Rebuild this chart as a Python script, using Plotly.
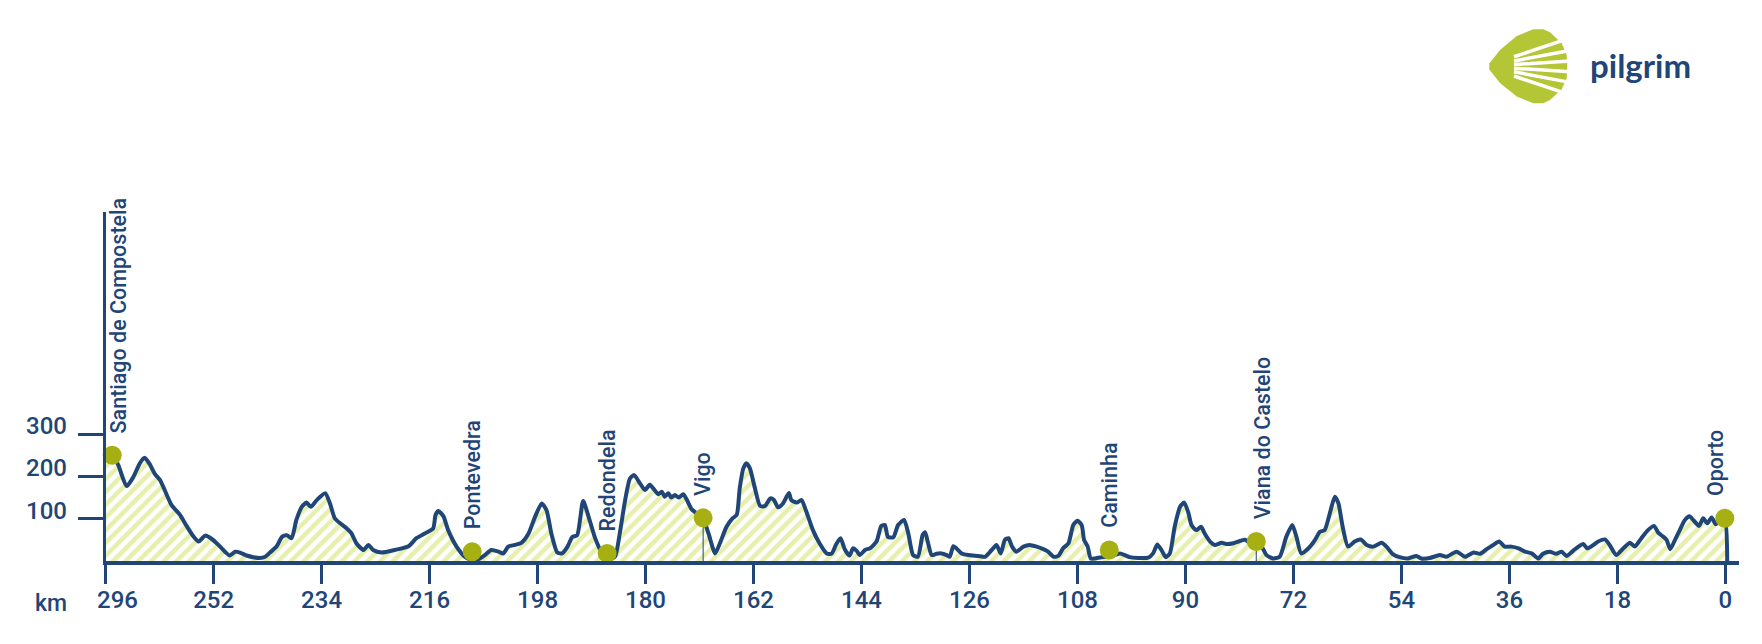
import plotly.graph_objects as go

W, H = 1762, 644
OFF = 8  # page body margin in the browser
NAVY = "#1f4677"
OLIVE = "#a7b013"
STRIPE = "#cfdf5a"
LOGO_GREEN = "#b4c636"


def fx(px):
    return (px - OFF) / W


def fy(py):
    return 1 - (py - OFF) / H


# ---- elevation profile (km remaining on the drawn scale, elevation in m) ----
km = [270.0, 268.9, 267.9, 266.5, 265.4, 264.3, 263.5, 262.6, 261.8, 260.9, 260.1, 259.0,
      257.6, 256.5, 255.4, 254.5, 253.4, 252.3, 251.2, 250.1, 249.3, 248.4, 247.6, 246.5,
      245.4, 244.3, 243.4, 242.6, 241.5, 240.6, 239.8, 239.0, 238.2, 237.3, 236.5, 235.8,
      234.8, 233.4, 232.6, 231.8, 230.9, 229.8, 229.0, 228.2, 227.0, 226.2, 225.4,
      224.0, 221.8, 219.5, 218.2, 216.8, 215.4, 215.0, 214.5, 213.7, 212.9, 211.5, 210.1,
      208.9, 207.9, 206.8, 205.7, 204.5, 203.7, 202.9, 201.8, 200.7, 199.5, 198.4, 197.3,
      196.5, 195.7, 194.7, 193.9, 193.0, 192.2, 191.4, 190.4, 189.5, 188.4, 187.3, 186.2,
      185.1, 184.3, 183.4, 182.6, 181.9, 180.9, 180.1, 179.3, 178.4,
      177.9, 177.3, 176.8, 176.2, 175.7, 175.1, 174.5, 173.7, 173.1, 172.3, 171.5, 170.4,
      169.5, 168.4, 167.6, 166.5, 165.5, 164.8, 164.3, 163.7, 163.2, 162.6, 161.8, 160.9,
      160.1, 159.2, 158.6, 157.9, 157.1, 156.1, 155.7, 154.8, 154.0, 153.2, 152.1, 151.0,
      149.8, 149.0, 148.2, 147.5, 146.8, 146.0, 145.4, 144.8, 144.3, 143.4, 142.6, 141.5,
      140.7, 140.1, 139.6, 138.7, 137.9, 136.9, 136.2, 135.4, 134.6, 133.8, 133.4, 132.9,
      132.3,
      131.5, 130.7, 129.8, 129.3, 128.7, 128.2, 127.3, 126.2, 124.5, 123.4, 122.3, 121.5,
      120.8, 120.1, 119.5, 118.9, 118.2, 117.0, 116.0, 114.8, 113.7, 112.9, 112.0, 111.2,
      110.4, 109.5, 108.7, 108.0, 107.3, 106.9, 106.3, 105.8, 105.1, 104.0, 102.8, 101.8,
      100.9, 100.1, 99.3, 97.9, 96.2, 95.4, 94.7, 94.0, 93.3, 92.6, 91.8, 90.9, 90.2, 89.5,
      89.0, 88.2, 87.4,
      86.8, 85.9, 85.1, 84.0, 83.2, 82.0, 81.2, 80.1, 79.3, 78.2, 77.3, 76.5, 75.4, 74.3,
      73.2, 72.2, 71.5, 70.7, 69.5, 68.4, 67.6, 66.8, 65.8, 65.1, 64.5, 63.8, 62.9, 61.8,
      60.8, 59.8, 58.7, 57.3, 56.5, 55.5, 54.3, 52.9, 51.5, 50.7, 49.3, 47.6, 46.5, 44.8,
      43.4, 42.0,
      40.9, 39.8, 38.7, 37.7, 36.8, 35.7, 34.5, 33.4, 32.3, 31.2, 30.4, 29.3, 28.2, 27.3,
      26.5, 25.4, 24.5, 23.7, 23.0, 22.0, 21.2, 20.1, 19.3, 18.2, 17.0, 15.9, 15.1, 14.0,
      12.9, 11.9, 11.2, 10.5, 9.8, 9.2, 8.4, 7.6, 6.8, 6.0, 5.3, 4.4, 3.7, 3.0, 2.3, 1.6,
      0.9, 0.1, -0.3]

elevation = [238, 250, 227, 177, 198, 231, 244, 228, 206, 191, 166, 132,
             109, 83, 59, 46, 60, 52, 38, 22, 13, 22, 20, 13,
             9, 7, 10, 20, 34, 57, 61, 54, 97, 128, 138, 128,
             144, 160, 136, 101, 89, 77, 65, 42, 26, 38, 26,
             20, 26, 35, 54, 65, 77, 109, 118, 106, 73, 34, 10,
             3, 4, 14, 26, 22, 18, 34, 38, 43, 65, 105, 136,
             120, 65, 20, 18, 34, 57, 61, 142, 105, 54, 20, 4,
             10, 65, 144, 195, 203, 183, 168, 180, 166,
             158, 164, 152, 160, 150, 156, 150, 158, 144, 122, 113, 100,
             65, 18, 42, 81, 101, 109, 172, 219, 231, 219, 174, 130,
             130, 148, 144, 127, 136, 161, 144, 138, 144, 117, 73, 42,
             18, 17, 40, 54, 28, 13, 30, 24, 14, 26, 30, 46,
             83, 85, 57, 56, 85, 97, 65, 14, 10, 62, 68, 42,
             14,
             17, 18, 14, 10, 35, 30, 18, 14, 12, 10, 26, 38,
             18, 50, 54, 34, 22, 34, 38, 34, 28, 22, 10, 12,
             30, 42, 85, 95, 85, 50, 34, 6, 6, 9, 10, 14,
             18, 14, 9, 7, 8, 18, 39, 26, 9, 18, 81, 128, 138, 113,
             85, 73, 81,
             65, 46, 38, 43, 40, 42, 46, 50, 43, 42, 34, 14, 6, 10,
             57, 85, 57, 18, 30, 50, 69, 73, 120, 152, 136, 81, 34, 46,
             51, 38, 34, 43, 34, 17, 9, 6, 12, 6, 7, 14, 10, 22,
             10, 20,
             17, 28, 38, 46, 34, 34, 30, 22, 18, 6, 17, 22, 17, 22,
             12, 24, 34, 40, 30, 38, 46, 51, 38, 14, 30, 43, 34, 54,
             73, 83, 67, 59, 50, 28, 50, 73, 96, 106, 96, 83, 101, 89, 103, 87,
             95, 97, 0]

# ---- towns ----
town_names = ["Santiago de Compostela", "Pontevedra", "Redondela", "Vigo",
              "Caminha", "Viana do Castelo", "Oporto"]
town_km = [268.9, 208.9, 186.4, 170.4, 102.7, 78.2, 0.1]
town_elev = [250, 22, 18, 102, 26, 46, 101]
town_stem = [False, False, False, True, False, True, False]

# ---- axis ticks ----
x_tickvals = [270, 252, 234, 216, 198, 180, 162, 144, 126, 108, 90, 72, 54, 36, 18, 0]
x_ticktext = ["296", "252", "234", "216", "198", "180", "162", "144", "126", "108",
              "90", "72", "54", "36", "18", "0"]
y_tickvals = [100, 200, 300]
y_ticktext = ["100", "200", "300"]

# label placement tweaks (pixels), kept apart from the data
label_dx = {"Santiago de Compostela": 6, "Viana do Castelo": 6, "Oporto": -10}
NB = "\u00a0"

fig = go.Figure()

fig.add_trace(go.Scatter(
    x=km, y=elevation, mode="lines",
    line=dict(color=NAVY, width=4, shape="spline", smoothing=0.6),
    fill="tozeroy",
    fillpattern=dict(shape="/", fgcolor=STRIPE, bgcolor="#ffffff", size=9, solidity=0.5),
    hoverinfo="skip", showlegend=False,
))

# thin stems under some towns
sx, sy = [], []
for k, e, s in zip(town_km, town_elev, town_stem):
    if s:
        sx += [k, k, None]
        sy += [0, e, None]
fig.add_trace(go.Scatter(x=sx, y=sy, mode="lines", line=dict(color=NAVY, width=1),
                         hoverinfo="skip", showlegend=False))

fig.add_trace(go.Scatter(
    x=town_km, y=town_elev, mode="markers",
    marker=dict(size=19, color=OLIVE),
    hoverinfo="skip", showlegend=False, cliponaxis=False,
))

for name, k, e in zip(town_names, town_km, town_elev):
    fig.add_annotation(x=k, y=e, xref="x", yref="y", text=name, showarrow=False,
                       textangle=-90, xanchor="center", yanchor="bottom", yshift=20,
                       xshift=label_dx.get(name, 0),
                       font=dict(family="Roboto", size=21.5, color=NAVY, weight=500))

# y tick labels sit a little above their tick marks in the original
for v, t in zip(y_tickvals, y_ticktext):
    fig.add_annotation(x=fx(69), y=v, xref="paper", yref="y", text=t, showarrow=False,
                       xanchor="right", yanchor="middle", yshift=8,
                       font=dict(family="Roboto", size=24, color=NAVY, weight=500))

fig.add_annotation(x=fx(50.5), y=fy(603), xref="paper", yref="paper", text="km",
                   showarrow=False, xanchor="center", yanchor="middle",
                   font=dict(family="Roboto", size=23, color=NAVY, weight=500))

# ---- logo ----
def P(px, py):
    return f"{fx(px):.5f},{fy(py):.5f}"

shell = [(1489.3, 63.5), (1500, 50), (1516.7, 36), (1533.3, 29.3), (1543.3, 29.3),
         (1550, 32.3), (1561.7, 43.3), (1566.7, 55), (1567.3, 66.7), (1566.7, 78.3),
         (1561.7, 89.3), (1550, 100), (1543.3, 103.3), (1533.3, 103.3), (1516.7, 96.5),
         (1500, 83), (1489.3, 69.5)]
path = "M " + " L ".join(P(a, b) for a, b in shell) + " Z"
fig.add_shape(type="path", path=path, xref="paper", yref="paper",
              fillcolor=LOGO_GREEN, line=dict(width=0))
for off in [-27.5, -15.5, -5.2, 5.2, 15.5, 27.5]:
    fig.add_shape(type="line", xref="paper", yref="paper",
                  x0=fx(1514), y0=fy(66.4 + off * 0.35),
                  x1=fx(1574), y1=fy(66.4 + off * 1.08),
                  line=dict(color="white", width=3.5))
fig.add_annotation(x=fx(1588), y=fy(65), xref="paper", yref="paper", text="<b>pilgrim</b>",
                   showarrow=False, xanchor="left", yanchor="middle",
                   font=dict(family="Lato", size=33, color=NAVY))

fig.update_layout(
    width=W, height=H,
    margin=dict(l=0, r=0, t=0, b=0, autoexpand=False),
    paper_bgcolor="white", plot_bgcolor="white",
    showlegend=False,
    xaxis=dict(
        domain=[fx(105.6), fx(1738.6)], range=[270, -2.2], automargin=False,
        tickmode="array", tickvals=x_tickvals,
        ticktext=[NB * 4 + x_ticktext[0]] + x_ticktext[1:],
        ticks="outside", ticklen=19, tickwidth=3, tickcolor=NAVY,
        showline=True, linecolor=NAVY, linewidth=4,
        showgrid=False, zeroline=False, ticklabelstandoff=-5,
        tickfont=dict(family="Roboto", size=24, color=NAVY, weight=500),
    ),
    yaxis=dict(
        domain=[fy(561), fy(212)], range=[0, 825], automargin=False,
        tickmode="array", tickvals=y_tickvals, showticklabels=False,
        ticks="outside", ticklen=25, tickwidth=3, tickcolor=NAVY,
        showline=True, linecolor=NAVY, linewidth=3,
        showgrid=False, zeroline=False,
    ),
)

fig.write_html("out.html")
